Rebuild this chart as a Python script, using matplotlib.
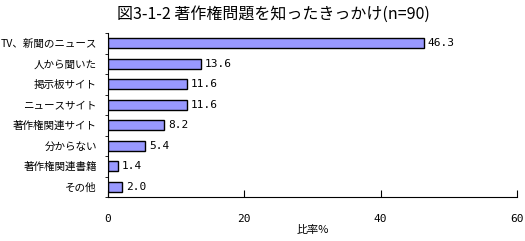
import numpy as np
import matplotlib.pyplot as plt

plt.rcParams['font.family'] = ['Noto Sans CJK JP', 'DejaVu Sans']

# Data
categories = ['TV、新聞のニュース', '人から聞いた', '掲示板サイト', 'ニュースサイト',
              '著作権関連サイト', '分からない', '著作権関連書籍', 'その他']
values = [46.3, 13.6, 11.6, 11.6, 8.2, 5.4, 1.4, 2.0]
xticks = [0, 20, 40, 60]

fig = plt.figure(figsize=(5.25, 2.41), dpi=100)
ax = fig.add_axes([108 / 525, 44 / 241, 409 / 525, 164 / 241])

y = np.arange(len(categories))
ax.barh(y, values, height=0.5, color='#9999FF', edgecolor='black', linewidth=1)
for yi, v in zip(y, values):
    ax.text(v + 0.6, yi, f'{v:.1f}', va='center', ha='left', fontsize=8,
            family='DejaVu Sans Mono')

ax.set_ylim(len(categories) - 0.5, -0.5)
ax.set_xlim(0, 60)
ax.set_yticks(y)
ax.set_yticklabels(categories, fontsize=7.6)
ax.set_yticks(np.arange(-0.5, len(categories)), minor=True)
ax.tick_params(axis='y', which='major', length=0, pad=8)
ax.tick_params(axis='y', which='minor', length=2, direction='out')
ax.set_xticks(xticks)
ax.set_xticklabels([str(t) for t in xticks], family='DejaVu Sans Mono')
ax.tick_params(axis='x', length=5, direction='in', labelsize=8, pad=12)
ax.set_xlabel('比率%', fontsize=8, labelpad=1)

for s in ['top', 'right']:
    ax.spines[s].set_visible(False)

fig.text(0.52, 0.942, '図3-1-2 著作権問題を知ったきっかけ(n=90)', ha='center', va='center',
         fontsize=11.5)

fig.savefig('out.png', dpi=100)
